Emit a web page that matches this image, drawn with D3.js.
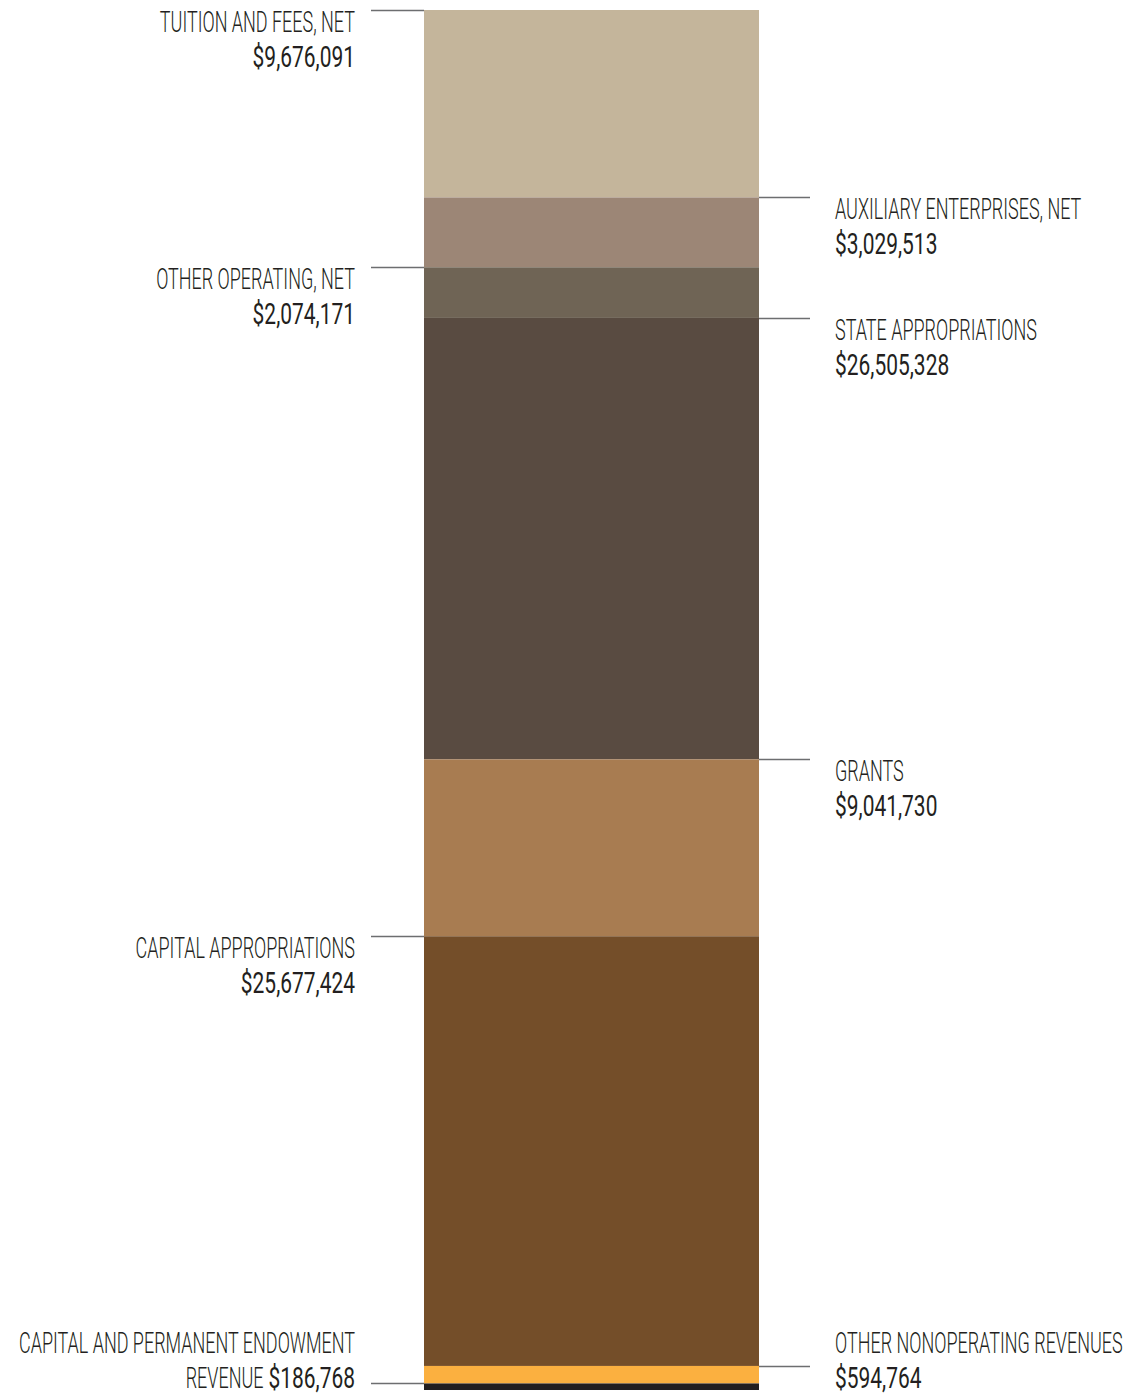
<!DOCTYPE html>
<html>
<head>
<meta charset="utf-8">
<script src="https://cdn.jsdelivr.net/npm/d3@7"></script>
<style>
  html, body { margin: 0; padding: 0; background: #fff; }
  svg { display: block; }
</style>
</head>
<body>
<script>
// ---- data ----
const categories = [
  "TUITION AND FEES, NET",
  "AUXILIARY ENTERPRISES, NET",
  "OTHER OPERATING, NET",
  "STATE APPROPRIATIONS",
  "GRANTS",
  "CAPITAL APPROPRIATIONS",
  "OTHER NONOPERATING REVENUES",
  "CAPITAL AND PERMANENT ENDOWMENT|REVENUE"
];
const values = [9676091, 3029513, 2074171, 26505328, 9041730, 25677424, 594764, 186768];
const sides = ["left", "right", "left", "right", "right", "left", "right", "left"];
const colors = ["#c4b59b", "#9c8676", "#6f6455", "#594b41", "#a87c51", "#744e29", "#fbb040", "#231f20"];

// ---- layout ----
const W = 1130, H = 1397;
const barX0 = 424, barX1 = 759, barTop = 10, barBottom = 1390;
const nameFont = "Roboto, 'Liberation Sans Narrow', sans-serif";

const svg = d3.select("body").append("svg").attr("width", W).attr("height", H);

// segment heights through a power scale, stacked
const pw = d3.scalePow().exponent(0.85).domain([0, 1]).range([0, 1]);
const raw = values.map(v => pw(v));
const total = d3.sum(raw);
const hScale = d3.scaleLinear().domain([0, total]).range([0, barBottom - barTop]);
let acc = 0;
const segs = values.map((v, i) => {
  const y0 = barTop + hScale(acc);
  acc += raw[i];
  const y1 = barTop + hScale(acc);
  return { name: categories[i], value: v, side: sides[i], color: colors[i], y0, y1 };
});

svg.append("g").selectAll("rect").data(segs).join("rect")
  .attr("x", barX0).attr("width", barX1 - barX0)
  .attr("y", d => d.y0).attr("height", d => d.y1 - d.y0)
  .attr("fill", d => d.color);

const fmt = d3.format("$,");
const lines = svg.append("g").attr("stroke", "#6d6e70").attr("stroke-width", 1.3);
const labels = svg.append("g");

// helper: a horizontally condensed text run
function addRun(x, y, anchor, txt, weight, sx) {
  return labels.append("text")
    .attr("transform", `translate(${x},${y}) scale(${sx},1)`)
    .attr("text-anchor", anchor)
    .attr("font-family", nameFont)
    .attr("font-size", 29.5)
    .attr("font-weight", weight)
    .attr("fill", "#231f20")
    .text(txt);
}

const nameSx = 0.61, valSx = 0.71;

segs.forEach(d => {
  const ly = Math.round(d.y0) + 0.5;
  if (d.side === "left") {
    lines.append("line").attr("x1", 371).attr("x2", barX0).attr("y1", ly).attr("y2", ly);
  } else {
    lines.append("line").attr("x1", barX1).attr("x2", 810).attr("y1", ly).attr("y2", ly);
  }
  const parts = d.name.split("|");
  const tx = d.side === "left" ? 355 : 835;
  const anchor = d.side === "left" ? "end" : "start";
  const b1 = Math.min(d.y0 + 22, H - 9 - 35);
  addRun(tx, b1, anchor, parts[0], 300, nameSx);
  const v = addRun(tx, b1 + 35, anchor, fmt(d.value), 400, valSx);
  if (parts.length > 1) {
    // prefix on the value line, placed to the left of the value
    const vw = v.node().getComputedTextLength() * valSx;
    addRun(tx - vw - 5, b1 + 35, "end", parts[1], 300, nameSx);
  }
});
</script>
</body>
</html>
